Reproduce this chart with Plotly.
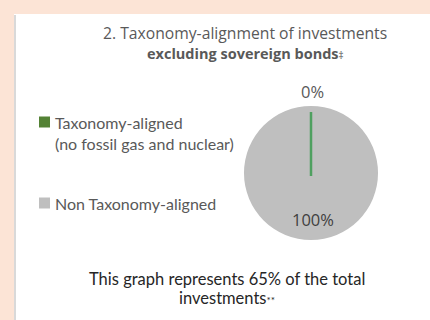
import math
import plotly.graph_objects as go

# Pie data
labels = ["Taxonomy-aligned<br>(no fossil gas and nuclear)", "Non Taxonomy-aligned"]
values = [0, 100]
colors = ["#548235", "#bfbfbf"]
line_color = "#4fa060"

title_lines = ["2. Taxonomy-alignment of investments",
               "<b>excluding sovereign bonds</b><span style='font-size:10px'>‡</span>"]
footer_lines = ["This graph represents 65% of the total",
                "investments<span style='font-size:10px'>**</span>"]

W, H = 430, 320
cx, cy, r = 311, 173, 67   # pie centre / radius in pixels

def px(x):
    return x / W

def py(y):
    return 1 - y / H

def note(text, x, y, font, xanchor="center", align="center"):
    return dict(text=text, x=px(x), y=py(y), xref="paper", yref="paper",
                xanchor=xanchor, yanchor="middle", align=align,
                showarrow=False, font=font)

fig = go.Figure()
fig.add_trace(go.Pie(
    labels=labels, values=values,
    marker=dict(colors=colors, line=dict(width=0)),
    textinfo="none", hoverinfo="label+percent",
    sort=False, direction="clockwise", rotation=0,
    showlegend=False,
    domain=dict(x=[px(cx - r), px(cx + r)], y=[py(cy + r), py(cy - r)]),
))

shapes = [
    # white panel with a thin grey edge on the left
    dict(type="rect", xref="paper", yref="paper", x0=px(14), x1=1.01, y0=-0.01, y1=py(14),
         fillcolor="white", line=dict(width=0), layer="below"),
    dict(type="line", xref="paper", yref="paper", x0=px(15), x1=px(15), y0=-0.01, y1=py(15),
         line=dict(color="#d9d9d9", width=2), layer="below"),
]

# boundary of the zero-sized slice, drawn as a radius line
total = sum(values)
ang = math.radians(90 - 360 * values[0] / total)
shapes.append(dict(type="line", xref="paper", yref="paper",
                   x0=px(cx), y0=py(cy + 3),
                   x1=px(cx + (r - 6) * math.cos(ang)), y1=py(cy - (r - 6) * math.sin(ang)),
                   line=dict(color=line_color, width=2.5)))

# legend squares
legend_y = [122, 203]
for col, ly in zip(colors, legend_y):
    shapes.append(dict(type="rect", xref="paper", yref="paper",
                       x0=px(39), x1=px(50), y0=py(ly + 5.5), y1=py(ly - 5.5),
                       fillcolor=col, line=dict(width=0)))

annotations = [
    note(title_lines[0], 245, 33, dict(family="Open Sans", size=15.7, color="#595959")),
    note(title_lines[1], 246, 53, dict(family="Open Sans", size=14.5, color="#595959")),
]

font_leg = dict(family="Lato", size=16, color="#595959")
for lab, ly in zip(labels, legend_y):
    n = lab.count("<br>")
    annotations.append(note(lab, 53, ly + n * 10.5, font_leg, xanchor="left", align="left"))

# percentage labels
pct = [f"{v / total * 100:.0f}%" for v in values]
annotations.append(note(pct[0], cx + 1, 91, dict(family="Open Sans", size=16.5, color="#595959")))
annotations.append(note(pct[1], cx + 2, 219, dict(family="Open Sans", size=16.5, color="#404040")))

font_foot = dict(family="Lato", size=16.5, color="#262626")
annotations.append(note(footer_lines[0], 227, 279, font_foot))
annotations.append(note(footer_lines[1], 227, 298, font_foot))

fig.update_layout(
    width=W, height=H,
    margin=dict(l=0, r=0, t=0, b=0),
    paper_bgcolor="#fce4d6",
    plot_bgcolor="#fce4d6",
    shapes=shapes,
    annotations=annotations,
)

fig.write_html("out.html")
